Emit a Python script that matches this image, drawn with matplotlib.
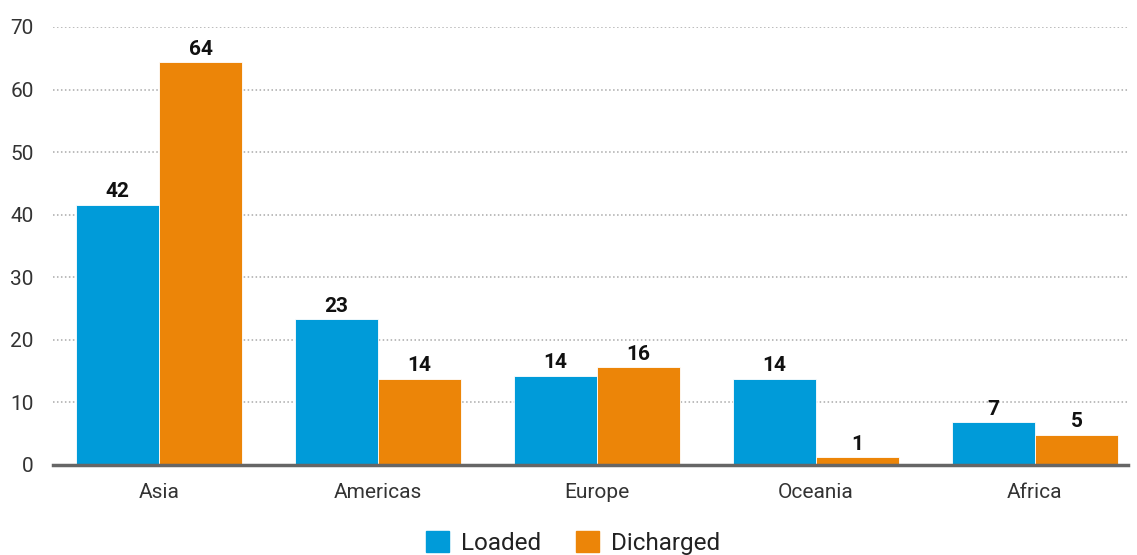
import matplotlib
matplotlib.use("Agg")
import matplotlib.pyplot as plt
import numpy as np
from matplotlib.patches import Patch

categories = ["Asia", "Americas", "Europe", "Oceania", "Africa"]
loaded = [41.6, 23.3, 14.3, 13.8, 6.8]
discharged = [64.4, 13.8, 15.6, 1.2, 4.8]
loaded_labels = ["42", "23", "14", "14", "7"]
discharged_labels = ["64", "14", "16", "1", "5"]
series_names = ["Loaded", "Dicharged"]
yticks = [0, 10, 20, 30, 40, 50, 60, 70]

plt.rcParams['font.family'] = ['Roboto', 'DejaVu Sans']

fig = plt.figure(figsize=(11.37, 5.55), dpi=100)
ax = fig.add_axes([53/1137, 1-465/555, (1128-53)/1137, (465-27)/555])

blue = "#009bd9"
orange = "#ec8508"
x = np.arange(len(categories))
w = 0.379
b1 = ax.bar(x - w/2, loaded, w, color=blue, edgecolor="white", linewidth=0.6, zorder=3)
b2 = ax.bar(x + w/2, discharged, w, color=orange, edgecolor="white", linewidth=0.6, zorder=3)

for bars, labs in ((b1, loaded_labels), (b2, discharged_labels)):
    for r, lab in zip(bars, labs):
        ax.annotate(lab, (r.get_x() + r.get_width()/2, r.get_height()),
                    xytext=(0, 2.5), textcoords="offset points",
                    ha="center", va="bottom", fontsize=15, fontweight="bold",
                    color="#111111", zorder=4)

ax.set_ylim(0, 70)
ax.set_xlim(-0.484, 4.425)
ax.set_yticks(yticks)
ax.set_yticklabels([str(t) for t in yticks], fontsize=15, color="#333333")
ax.set_xticks(x)
ax.set_xticklabels(categories, fontsize=15, color="#333333")
ax.tick_params(axis="y", length=0, pad=14)
ax.tick_params(axis="x", length=0, pad=13)
ax.yaxis.grid(True, linestyle=(0, (1.0, 1.6)), color="#aaaaaa", linewidth=1.1, zorder=0)
ax.xaxis.grid(False)
for s in ("top", "right", "left"):
    ax.spines[s].set_visible(False)
ax.spines["bottom"].set_color("#666666")
ax.spines["bottom"].set_linewidth(2.5)
ax.spines["bottom"].set_zorder(5)

handles = [Patch(color=blue), Patch(color=orange)]
fig.legend(handles, series_names, loc="center", bbox_to_anchor=(573/1137, 1-543/555),
           ncol=2, frameon=False, handlelength=0.95, handleheight=0.95,
           handletextpad=0.5, columnspacing=1.4, prop={'size': 17.5},
           labelcolor="#222222")

fig.savefig("out.png", dpi=100)
